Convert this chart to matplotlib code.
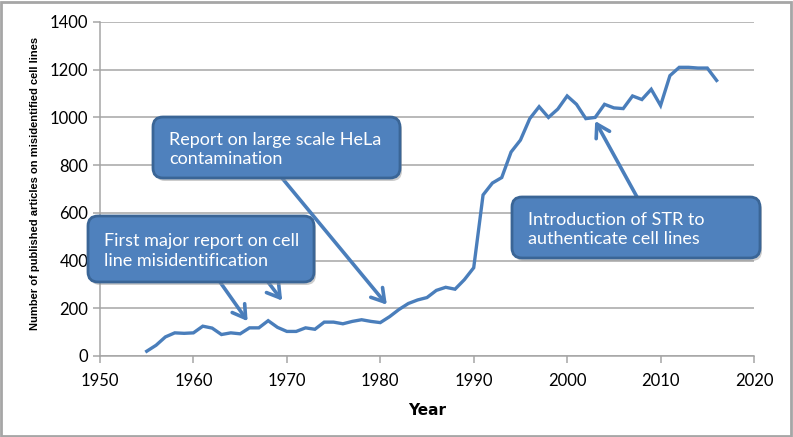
import matplotlib.pyplot as plt
from matplotlib.patches import FancyBboxPatch, Rectangle

# articles on misidentified cell lines per year
years = list(range(1955, 2017))
counts = [20, 45, 80, 97, 95, 97, 125, 117, 90, 97,
          93, 118, 118, 148, 120, 103, 103, 118, 112, 142,
          142, 135, 145, 152, 145, 140, 165, 195, 220, 235,
          245, 275, 288, 280, 320, 370, 675, 725, 748, 855,
          905, 995, 1045, 1000, 1035, 1090, 1055, 995, 1000, 1055,
          1040, 1037, 1090, 1075, 1118, 1050, 1175, 1210, 1210, 1207,
          1207, 1155]

x_ticks = [1950, 1960, 1970, 1980, 1990, 2000, 2010, 2020]
y_ticks = [0, 200, 400, 600, 800, 1000, 1200, 1400]

blue = '#4A7EBB'
box_fc = '#4F81BD'
box_ec = '#3A6596'
grid_c = '#A5A5A5'
font = 'Lato'

fig = plt.figure(figsize=(7.93, 4.37), dpi=100)
ax = fig.add_axes([100 / 793, 81 / 437, 654 / 793, 334 / 437])

ax.plot(years, counts, color=blue, lw=2.4, solid_joinstyle='miter', zorder=3)

ax.set_xlim(1950, 2020)
ax.set_ylim(0, 1400)
ax.set_xticks(x_ticks)
ax.set_yticks(y_ticks)
ax.grid(axis='y', color=grid_c, lw=1.1)
ax.set_axisbelow(True)
for s in ['top', 'right']:
    ax.spines[s].set_visible(False)
for s in ['left', 'bottom']:
    ax.spines[s].set_color(grid_c)
    ax.spines[s].set_linewidth(1.1)
ax.tick_params(axis='both', colors=grid_c, length=5, width=1.1,
               labelcolor='black', labelsize=12)
for lab in ax.get_xticklabels() + ax.get_yticklabels():
    lab.set_fontfamily(font)
ax.tick_params(axis='x', pad=7)

ax.set_xlabel('Year', fontsize=11, fontweight='bold', family='DejaVu Sans')
ax.xaxis.set_label_coords(0.5, -0.14)
fig.text(35 / 793, 1 - 183 / 437,
         'Number of published articles on misidentified cell lines',
         rotation=90, ha='center', va='center', fontsize=8,
         fontweight='bold', family='Liberation Sans')

# callout boxes (figure pixel coords, top-left origin)
def callout(x0, y0, x1, y1, text):
    h = 437
    sh = FancyBboxPatch((x0 + 2, h - y1 - 3), x1 - x0, y1 - y0,
                        boxstyle='round,pad=0,rounding_size=10',
                        transform=None, fc='#9a9a9a', ec='none', alpha=0.5, zorder=4)
    fig.patches.append(sh)
    p = FancyBboxPatch((x0, h - y1), x1 - x0, y1 - y0,
                       boxstyle='round,pad=0,rounding_size=10',
                       transform=None, fc=box_fc, ec=box_ec, lw=2, zorder=5)
    fig.patches.append(p)
    fig.text((x0 + 16) / 793, 1 - ((y0 + y1) / 2 + 2) / 437, text, color='white',
             fontsize=13, family=font, va='center', ha='left',
             linespacing=1.3, zorder=6)

callout(153, 117, 400, 178, 'Report on large scale HeLa\ncontamination')
callout(88, 216, 314, 282, 'First major report on cell\nline misidentification')
callout(512, 197, 760, 258, 'Introduction of STR to\nauthenticate cell lines')

arrow = dict(arrowstyle='->,head_length=0.9,head_width=0.55', color=blue,
             lw=2.6, shrinkA=0, shrinkB=0)
# (start in figure pixels from top, target in data)
arrows = [((282, 178), (1980.7, 215)),
          ((220, 282), (1965.8, 146)),
          ((268, 282), (1969.5, 232)),
          ((637, 197), (2003.0, 985))]
for (sx, sy), (tx, ty) in arrows:
    ax.annotate('', xy=(tx, ty), xytext=(sx, 437 - sy),
                textcoords='figure pixels', arrowprops=arrow,
                annotation_clip=False, zorder=4)

fig.patches.append(Rectangle((1, 1), 790, 434, transform=None, fill=False,
                             ec='#A6A6A6', lw=2, zorder=10))

fig.savefig('out.png', dpi=100)
